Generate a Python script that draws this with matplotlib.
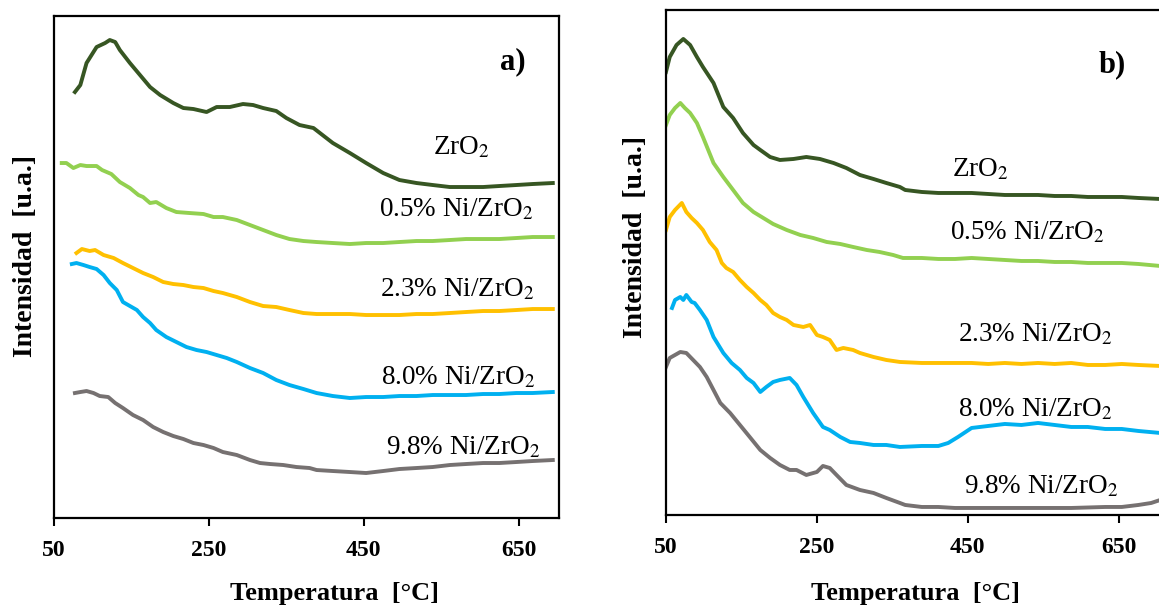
import matplotlib
matplotlib.use("Agg")
import matplotlib.pyplot as plt

plt.rcParams['font.family'] = ['Liberation Serif', 'DejaVu Serif']
plt.rcParams['mathtext.fontset'] = 'stix'

# ---- panel a) : temperature [C] and intensity [a.u.] ----
a_zro2_t = [77, 84, 92, 105, 116, 122, 129, 135, 148, 161, 174, 187, 204, 217, 230, 247, 260, 277,
            294, 307, 320, 337, 350, 367, 385, 410, 432, 453, 475, 496, 518, 539, 561, 582, 604,
            625, 647, 668, 694]
a_zro2_i = [426, 433, 455, 471, 475, 478, 476, 468, 455, 443, 431, 423, 415, 410, 409, 406, 411, 411,
            414, 413, 410, 407, 400, 393, 390, 375, 365, 355, 345, 338, 335, 333, 331, 331, 331,
            332, 333, 334, 335]

a_05_t = [60, 66, 75, 84, 92, 105, 112, 124, 135, 148, 159, 165, 174, 182, 195, 208, 225, 243, 256,
          268, 286, 303, 320, 337, 354, 372, 389, 410, 432, 453, 475, 496, 518, 539, 561, 582, 604,
          625, 647, 668, 694]
a_05_i = [355, 355, 350, 353, 352, 352, 348, 344, 336, 330, 323, 321, 315, 316, 310, 306, 305, 304, 301,
          301, 298, 293, 288, 283, 279, 277, 276, 275, 274, 275, 275, 276, 277, 277, 278, 279, 279,
          279, 280, 281, 281]

a_23_t = [79, 86, 96, 103, 114, 127, 139, 152, 165, 178, 191, 204, 217, 230, 243, 256, 268, 286, 303,
          320, 337, 354, 372, 389, 410, 432, 453, 475, 496, 518, 539, 561, 582, 604, 625, 647, 668, 694]
a_23_i = [265, 269, 267, 268, 263, 260, 255, 250, 245, 241, 236, 234, 233, 231, 230, 227, 225, 221, 216,
          212, 211, 208, 205, 204, 204, 204, 203, 203, 203, 204, 204, 205, 206, 207, 207, 208, 209, 209]

a_80_t = [73, 79, 88, 96, 105, 114, 122, 131, 139, 148, 157, 165, 174, 182, 195, 208, 221, 234, 247,
          260, 273, 286, 303, 320, 337, 354, 372, 389, 410, 432, 453, 475, 496, 518, 539, 561, 582,
          604, 625, 647, 668, 694]
a_80_i = [254, 255, 253, 251, 249, 243, 235, 228, 216, 212, 208, 201, 195, 188, 181, 176, 171, 168, 166,
          163, 160, 156, 150, 145, 138, 133, 129, 125, 122, 120, 121, 121, 122, 122, 123, 123, 123,
          124, 124, 125, 125, 126]

a_98_t = [77, 84, 92, 101, 109, 120, 129, 139, 152, 165, 178, 191, 204, 217, 230, 243, 256, 268, 286,
          303, 316, 329, 346, 363, 380, 389, 410, 432, 453, 475, 496, 518, 539, 561, 582, 604, 625,
          647, 668, 694]
a_98_i = [125, 126, 127, 125, 122, 121, 115, 110, 103, 98, 91, 86, 82, 79, 75, 73, 70, 66, 63,
          58, 55, 54, 53, 51, 50, 48, 47, 46, 45, 47, 49, 50, 51, 53, 54, 55, 55, 56, 57, 58]

# ---- panel b) ----
b_zro2_t = [50, 55, 64, 73, 82, 91, 99, 113, 126, 139, 152, 166, 175, 188, 201, 219, 236, 254, 272,
            289, 307, 325, 342, 360, 367, 389, 411, 433, 455, 477, 499, 521, 543, 565, 587, 609,
            632, 654, 676, 705]
b_zro2_i = [443, 458, 470, 476, 470, 458, 448, 432, 408, 397, 382, 370, 365, 358, 355, 356, 358, 356, 352,
            347, 340, 336, 332, 328, 325, 323, 322, 322, 322, 321, 320, 320, 320, 319, 319, 318,
            318, 318, 317, 316]

b_05_t = [50, 55, 62, 69, 75, 82, 91, 99, 113, 126, 139, 152, 166, 179, 192, 210, 228, 245, 263, 281,
          298, 316, 333, 351, 364, 389, 411, 433, 455, 477, 499, 521, 543, 565, 587, 609, 632, 654,
          676, 705]
b_05_i = [390, 400, 407, 412, 407, 402, 392, 378, 352, 338, 325, 312, 303, 297, 291, 285, 280, 277, 273, 271,
          268, 265, 263, 260, 257, 257, 256, 256, 257, 256, 255, 254, 254, 253, 253, 252, 252, 252,
          251, 249]

b_23_t = [50, 55, 62, 71, 77, 84, 91, 99, 108, 117, 124, 130, 139, 148, 157, 166, 175, 183, 192, 201,
          210, 219, 232, 241, 250, 258, 267, 276, 285, 298, 307, 325, 342, 360, 389, 411, 433, 455,
          477, 499, 521, 543, 565, 587, 609, 632, 654, 676, 705]
b_23_i = [285, 298, 305, 312, 303, 297, 292, 285, 273, 265, 252, 247, 243, 235, 228, 222, 215, 210, 202, 198,
          195, 190, 188, 190, 180, 178, 175, 165, 167, 165, 162, 158, 155, 153, 152, 152, 152, 152,
          151, 152, 151, 152, 151, 152, 150, 150, 151, 150, 149]

b_80_t = [58, 62, 69, 73, 77, 84, 88, 95, 104, 113, 126, 137, 148, 157, 166, 175, 183, 192, 201, 214,
          223, 232, 245, 258, 267, 281, 294, 307, 325, 342, 360, 389, 411, 424, 437, 455, 477, 499,
          521, 543, 565, 587, 609, 632, 654, 676, 705]
b_80_i = [207, 215, 218, 215, 220, 213, 212, 205, 195, 178, 162, 152, 145, 137, 132, 123, 128, 133, 135, 137,
          130, 118, 102, 88, 85, 78, 73, 72, 70, 70, 68, 69, 69, 72, 78, 87, 89, 91,
          90, 92, 90, 88, 88, 86, 86, 84, 82]

b_98_t = [50, 55, 62, 69, 77, 86, 95, 104, 113, 122, 135, 148, 161, 175, 188, 201, 214, 223, 236, 250,
          258, 267, 276, 289, 307, 325, 342, 360, 367, 389, 411, 433, 455, 499, 543, 587, 632, 654,
          676, 693, 705]
b_98_i = [148, 157, 160, 163, 162, 155, 148, 138, 125, 112, 102, 90, 78, 65, 57, 50, 45, 45, 40, 43,
          49, 47, 40, 30, 25, 22, 17, 12, 10, 8, 8, 7, 7, 7, 7, 7, 8, 8,
          10, 12, 15]

labels = ['ZrO$_2$', '0.5% Ni/ZrO$_2$', '2.3% Ni/ZrO$_2$', '8.0% Ni/ZrO$_2$', '9.8% Ni/ZrO$_2$']
colors = ['#375623', '#92D050', '#FFC000', '#00B0F0', '#767171']

# label anchor points (temperature, intensity)
a_lab_t = [576, 570, 571, 572, 578]
a_lab_i = [370, 308, 228, 140, 70]
b_lab_t = [466, 529, 539, 539, 548]
b_lab_i = [345, 282, 180, 105, 28]

xticks = [50, 250, 450, 650]

fig = plt.figure(figsize=(11.59, 6.09), dpi=100)
ax1 = fig.add_axes([0.0466, 0.1494, 0.4357, 0.8243])
ax2 = fig.add_axes([0.5746, 0.1544, 0.4265, 0.8292])

panels = [
    (ax1, [(a_zro2_t, a_zro2_i), (a_05_t, a_05_i), (a_23_t, a_23_i), (a_80_t, a_80_i), (a_98_t, a_98_i)],
     a_lab_t, a_lab_i, (50, 702), (0, 502), 'a)', (0.909, 0.908), (0.556, -0.127), (-0.032, 0.522)),
    (ax2, [(b_zro2_t, b_zro2_i), (b_05_t, b_05_i), (b_23_t, b_23_i), (b_80_t, b_80_i), (b_98_t, b_98_i)],
     b_lab_t, b_lab_i, (50, 705), (0, 505), 'b)', (0.902, 0.891), (0.504, -0.133), (-0.036, 0.550)),
]

for ax, series, lab_t, lab_i, xlim, ylim, tag, tag_xy, xl_xy, yl_xy in panels:
    for (t, inten), c in zip(series, colors):
        ax.plot(t, inten, color=c, lw=2.8, solid_joinstyle='round')
    for lab, lt, li in zip(labels, lab_t, lab_i):
        ax.text(lt, li, lab, fontsize=19.5, ha='center', va='center')
    ax.set_xlim(*xlim)
    ax.set_ylim(*ylim)
    ax.set_xticks(xticks)
    ax.set_xticklabels([str(v) for v in xticks], fontweight='bold', fontsize=17)
    ax.set_yticks([])
    ax.tick_params(axis='x', direction='out', length=6, width=1.5, pad=10)
    for s in ax.spines.values():
        s.set_linewidth(1.6)
    ax.set_xlabel('Temperatura  [°C]', fontsize=19, fontweight='bold')
    ax.xaxis.set_label_coords(*xl_xy)
    ax.set_ylabel('Intensidad  [u.a.]', fontsize=20, fontweight='bold')
    ax.yaxis.set_label_coords(*yl_xy)
    ax.text(tag_xy[0], tag_xy[1], tag, transform=ax.transAxes, fontsize=22, fontweight='bold',
            ha='center', va='center')

fig.savefig('out.png', dpi=100)
